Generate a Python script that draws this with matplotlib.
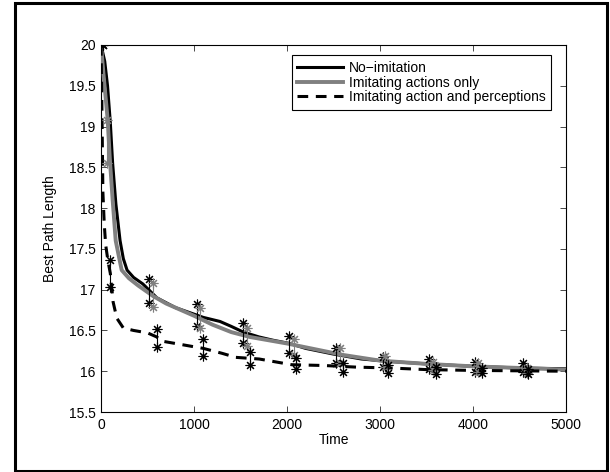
import matplotlib
matplotlib.use('Agg')
from matplotlib import pyplot as plt
from matplotlib.patches import Rectangle

plt.rcParams['font.family'] = ['Liberation Sans', 'DejaVu Sans']
plt.rcParams['font.size'] = 10

# mean best path length, no imitation
t_none = [0, 40, 70, 100, 125, 160, 205, 240, 280, 350, 450, 530, 600, 800, 1000,
          1100, 1280, 1400, 1530, 1700, 1850, 2030, 2200, 2500, 2800, 3100, 3500,
          4000, 4500, 5000]
v_none = [20, 19.8, 19.5, 19.05, 18.55, 18.05, 17.6, 17.38, 17.24, 17.15, 17.07,
          16.98, 16.9, 16.78, 16.7, 16.66, 16.61, 16.55, 16.48, 16.42, 16.38, 16.34,
          16.28, 16.21, 16.15, 16.12, 16.09, 16.06, 16.04, 16.03]

# imitating actions only
t_act = [0, 30, 72, 95, 125, 158, 222, 300, 400, 500, 562, 700, 1000, 1200, 1400,
         1600, 1800, 2000, 2300, 2600, 3000, 3500, 4000, 4500, 5000]
v_act = [20, 19.6, 19.08, 18.6, 18.1, 17.6, 17.24, 17.14, 17.05, 16.97, 16.92,
         16.83, 16.68, 16.57, 16.48, 16.42, 16.38, 16.34, 16.27, 16.2, 16.13, 16.09,
         16.06, 16.04, 16.02]

# imitating action and perceptions
t_both = [0, 10, 20, 35, 50, 75, 100, 130, 170, 240, 350, 500, 600, 650, 900, 1100,
          1300, 1450, 1700, 1900, 2050, 2400, 2750, 3100, 3500, 4000, 5000]
v_both = [20, 19.2, 18.2, 17.8, 17.55, 17.35, 17.2, 16.85, 16.65, 16.53, 16.5,
          16.47, 16.42, 16.37, 16.32, 16.28, 16.22, 16.17, 16.15, 16.11, 16.08, 16.07,
          16.05, 16.04, 16.02, 16.01, 16.0]

# error bars (top / bottom)
eb_none_t = [20, 520, 1030, 1530, 2025, 2525, 3030, 3530, 4020, 4540]
eb_none_hi = [20, 17.13, 16.82, 16.59, 16.43, 16.28, 16.18, 16.15, 16.11, 16.10]
eb_none_lo = [20, 16.84, 16.55, 16.35, 16.22, 16.10, 16.05, 16.03, 15.99, 15.99]

eb_act_t = [60, 562, 1065, 1566, 2075, 2570, 3055, 3570, 4055, 4580]
eb_act_hi = [19.08, 17.08, 16.77, 16.53, 16.40, 16.28, 16.19, 16.11, 16.10, 16.04]
eb_act_lo = [18.55, 16.79, 16.53, 16.31, 16.20, 16.10, 16.05, 16.02, 15.99, 15.98]

eb_both_t = [100, 600, 1100, 1600, 2100, 2600, 3090, 3600, 4100, 4590]
eb_both_hi = [17.36, 16.52, 16.40, 16.24, 16.16, 16.10, 16.08, 16.05, 16.04, 16.03]
eb_both_lo = [17.03, 16.30, 16.19, 16.08, 16.03, 15.99, 15.98, 15.97, 15.98, 15.97]

gray = '0.5'
star = (8, 2, 0)

fig = plt.figure(figsize=(6.1, 4.72), dpi=100)
ax = fig.add_axes([0.1656, 0.1271, 0.9279 - 0.1656, 0.9047 - 0.1271])

ax.plot(t_none, v_none, color='k', lw=2.2, label='No\u2212imitation', zorder=3)
ax.plot(t_act, v_act, color=gray, lw=2.8, label='Imitating actions only', zorder=4)
ax.plot(t_both, v_both, color='k', lw=2.2, ls=(0, (3.5, 2.5)),
        label='Imitating action and perceptions', zorder=5)

# error bars drawn as thin vertical lines with asterisks at the ends
for t, hi, lo, c in [(eb_none_t, eb_none_hi, eb_none_lo, 'k'),
                     (eb_act_t, eb_act_hi, eb_act_lo, gray),
                     (eb_both_t, eb_both_hi, eb_both_lo, 'k')]:
    ax.vlines(t, lo, hi, color=c, lw=0.8, zorder=6)
    ax.plot(t, hi, ls='none', marker=star, ms=7, mew=0.8, color=c, zorder=6)
    ax.plot(t, lo, ls='none', marker=star, ms=7, mew=0.8, color=c, zorder=6)

ax.set_xlim(0, 5000)
ax.set_ylim(15.5, 20)
ax.set_xticks([0, 1000, 2000, 3000, 4000, 5000])
ax.set_yticks([15.5, 16, 16.5, 17, 17.5, 18, 18.5, 19, 19.5, 20])
ax.set_yticklabels(['15.5', '16', '16.5', '17', '17.5', '18', '18.5', '19', '19.5', '20'])
ax.tick_params(direction='in', top=True, right=True, length=4, width=0.5, pad=4)
for s in ax.spines.values():
    s.set_linewidth(0.8)
ax.set_xlabel('Time', labelpad=1)
ax.set_ylabel('Best Path Length', labelpad=8)

leg = ax.legend(loc='upper right', bbox_to_anchor=(0.968, 0.972), fancybox=False,
                framealpha=1, edgecolor='k', handlelength=3.3, handletextpad=0.4,
                labelspacing=0.05, borderpad=0.4, borderaxespad=0)
leg.get_frame().set_linewidth(0.8)

# outer frame round the whole figure
fig.patches.append(Rectangle((14.5 / 610, 1.5 / 472), 592 / 610, 467.5 / 472,
                             transform=fig.transFigure, fill=False, lw=2.2,
                             edgecolor='k'))

fig.savefig('out.png', dpi=100)
